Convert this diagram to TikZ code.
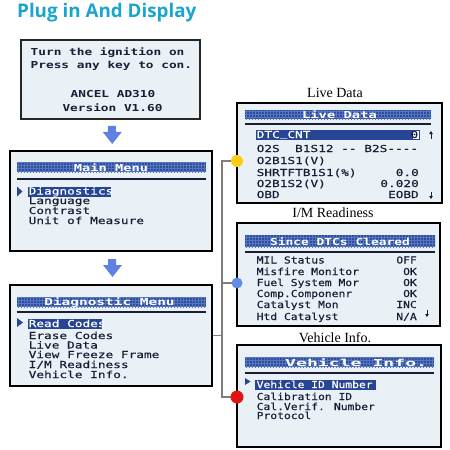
\documentclass[tikz,border=0pt]{standalone}
\usepackage{fontspec}
\usepackage{graphicx}
\usetikzlibrary{patterns,arrows.meta,calc}
\setmainfont{Liberation Serif}
\newfontfamily\lcd[FakeStretch=1.33]{DejaVu Sans Mono}
\newfontfamily\lcdi[FakeStretch=1.33,FakeBold=0.4]{DejaVu Sans Mono}
\newfontfamily\lcdn[FakeStretch=1.18,FakeBold=0.4]{DejaVu Sans Mono}
\newfontfamily\headfont{Open Sans}
\newcommand\hy{\mbox{-}}
\newcommand\ubar{\raisebox{1.6pt}{\_}}
\definecolor{boxfill}{RGB}{233,241,246}
\definecolor{barblue}{RGB}{45,78,158}
\definecolor{gridcol}{RGB}{88,118,192}
\definecolor{hlblue}{RGB}{40,68,148}
\definecolor{textc}{RGB}{25,30,55}
\definecolor{arrowblue}{RGB}{95,128,228}
\definecolor{titlecyan}{RGB}{25,165,205}
\definecolor{linegray}{RGB}{125,125,125}
\definecolor{dotyellow}{RGB}{250,205,20}
\definecolor{dotblue}{RGB}{100,140,230}
\definecolor{dotred}{RGB}{225,20,20}
\begin{document}
\begin{tikzpicture}[x=1pt,y=-1pt,
  screen/.style={draw=black, line width=1.7pt, fill=boxfill, inner sep=0},
  bar/.style={draw=none, preaction={fill=barblue}, pattern=grid, pattern color=gridcol, inner sep=0},
  hlbox/.style={fill=hlblue, draw=none, inner sep=0},
  item/.style={anchor=base west, inner sep=0, text=textc, font=\lcdi\fontsize{9.6}{10}\selectfont},
  itemn/.style={item, font=\lcdn\fontsize{9.6}{10}\selectfont},
  val/.style={item, anchor=base east},
  valn/.style={itemn, anchor=base east},
  bartext/.style={anchor=base, inner sep=0, text=white, font=\lcd\bfseries\fontsize{9.6}{10}\selectfont},
  boldtext/.style={item, font=\lcd\bfseries\fontsize{9.6}{10}\selectfont},
  shotlabel/.style={anchor=base, inner sep=0, text=black, font=\fontsize{14}{16}\selectfont},
  rulel/.style={draw=textc, line width=1.3pt},
  conn/.style={draw=linegray, line width=1.1pt},
  dotnode/.style={circle, inner sep=0, draw=none},
  bigarrow/.style={fill=arrowblue},
  tinyarrow/.style={draw=textc, line width=0.9pt, -{Triangle[length=3pt,width=3.5pt]}},
  pointer/.style={fill=hlblue}
]
\useasboundingbox (0,0) rectangle (450,450);

% title
\node[anchor=base west, inner sep=0, font=\headfont\bfseries\fontsize{18.8}{20}\selectfont, text=titlecyan] (title) at (17,17) {Plug in And Display};

% ---------- start screen
\node[screen, draw=black!85, line width=1.5pt, minimum width=179pt, minimum height=79pt] (start) at (110.5,79.5) {};
\node[boldtext] (s1) at (30.5,55) {Turn the ignition on};
\node[boldtext] (s2) at (30.5,68) {Press any key to con.};
\node[boldtext, anchor=base] (s3) at (113,97) {ANCEL AD310};
\node[boldtext, anchor=base] (s4) at (112.5,111) {Version V1.60};

% ---------- main menu
\node[screen, minimum width=202pt, minimum height=100pt] (mainmenu) at (111,201) {};
\node[bar, minimum width=189pt, minimum height=10pt] (mainbar) at (111.5,167) {};
\node[bartext] (maint) at (111,171) {\scalebox{1.07}[1]{Main Menu}};
\draw[rulel] (17,179) -- (206,179);
\fill[pointer] (17,186.5) -- (22.5,191.5) -- (17,196.5) -- cycle;
\node[hlbox, minimum width=83pt, minimum height=10pt] (mhl) at (69.5,192) {};
\node[item, text=white] (m1) at (28.5,194.5) {Diagnostics};
\node[item] (m2) at (28.5,204) {Language};
\node[item] (m3) at (28.5,214) {Contrast};
\node[item] (m4) at (28.5,224) {Unit of Measure};

% ---------- diagnostic menu
\node[screen, minimum width=202pt, minimum height=101pt] (diag) at (111,335.5) {};
\node[bar, minimum width=189pt, minimum height=10pt] (diagbar) at (111.5,302) {};
\node[bartext] (diagt) at (109.5,305) {\scalebox{1.13}[1]{Diagnostic Menu}};
\draw[rulel] (17,312) -- (206,312);
\fill[pointer] (17,318) -- (23,322.5) -- (17,327) -- cycle;
\node[hlbox, minimum width=74pt, minimum height=10pt] (dhl) at (65,324) {};
\node[item, text=white] (d1) at (28.5,327) {Read Codes};
\node[item] (d2) at (28.5,339) {Erase Codes};
\node[item] (d3) at (28.5,348.5) {Live Data};
\node[item] (d4) at (28.5,358) {View Freeze Frame};
\node[item] (d5) at (28.5,368) {I/M Readiness};
\node[item] (d6) at (28.5,378) {Vehicle Info.};

% ---------- big arrows
\path ($(start.south)!0.5!(mainmenu.north)$) coordinate (a1);
\path ($(mainmenu.south)!0.5!(diag.north)$) coordinate (a2);
\fill[bigarrow, shift={(a1)}] (-3,-9) -- (5,-9) -- (5,-3) -- (11,-3) -- (1.5,9) -- (-8,-3) -- (-3,-3) -- cycle;
\fill[bigarrow, shift={(a2)}] (-3,-9) -- (5,-9) -- (5,-3) -- (11,-3) -- (1.5,9) -- (-8,-3) -- (-3,-3) -- cycle;

% ---------- live data
\node[shotlabel] (livelab) at (335,97) {Live Data};
\node[screen, minimum width=205pt, minimum height=100pt] (live) at (339.5,153) {};
\node[bar, minimum width=186pt, minimum height=9pt] (livebar) at (338,114.5) {};
\node[bartext] (livet) at (339.5,118) {\scalebox{1.08}[1]{Live Data}};
\draw[rulel] (245,124) -- (431,124);
\node[hlbox, minimum width=164pt, minimum height=10.5pt] (lhl) at (338,135) {};
\node[item, text=white] (l1) at (256.5,138) {DTC\ubar CNT};
\node[draw=hlblue, line width=0.6pt, fill=white, inner sep=0, minimum width=7pt, minimum height=8.5pt] (zbox) at (415.5,135) {};
\node[val] (l1v) at (418.5,138) {0};
\draw[tinyarrow] (431,138.5) -- (431,131);
\node[item] (l2) at (256.5,152) {O2S\ \ B1S12 \hy\hy{} B2S\hy\hy\hy\hy};
\node[item] (l3) at (256.5,164) {O2B1S1(V)};
\node[item] (l4) at (256.5,176) {SHRTFTB1S1(\%)};
\node[val] (l4v) at (419,176) {0.0};
\node[item] (l5) at (256.5,187) {O2B1S2(V)};
\node[val] (l5v) at (419,187) {0.020};
\node[item] (l6) at (256.5,198) {OBD};
\node[val] (l6v) at (419,198) {EOBD};
\draw[tinyarrow] (431,191.5) -- (431,199);

% ---------- I/M readiness
\node[shotlabel] (imlab) at (333,217) {I/M Readiness};
\node[screen, minimum width=203pt, minimum height=103pt] (im) at (338.5,274.5) {};
\node[bar, minimum width=190pt, minimum height=12pt] (imbar) at (340,241) {};
\node[bartext] (imt) at (340,245) {\scalebox{1.01}[1]{Since DTCs Cleared}};
\draw[rulel] (245,252) -- (435,252);
\node[itemn] (i1) at (256.5,263.5) {MIL Status};
\node[valn] (i1v) at (417,263.5) {OFF};
\node[itemn] (i2) at (256.5,275) {Misfire Monitor};
\node[valn] (i2v) at (417,275) {OK};
\node[itemn] (i3) at (256.5,286) {Fuel System Mor};
\node[valn] (i3v) at (417,286) {OK};
\node[itemn] (i4) at (256.5,297) {Comp.Componenr};
\node[valn] (i4v) at (417,297) {OK};
\node[itemn] (i5) at (256.5,308) {Catalyst Mon};
\node[valn] (i5v) at (417,308) {INC};
\node[itemn] (i6) at (256.5,320) {Htd Catalyst};
\node[valn] (i6v) at (417,320) {N/A};
\draw[tinyarrow] (427,309.5) -- (427,317);

% ---------- vehicle info
\node[shotlabel] (vehlab) at (335,342) {Vehicle Info.};
\node[screen, minimum width=204pt, minimum height=102pt] (veh) at (339,396) {};
\node[bar, minimum width=189pt, minimum height=10pt] (vehbar) at (339.5,362) {};
\node[bartext, anchor=base west] (veht) at (285,366) {\scalebox{1.42}[1]{Vehicle Info.}};
\draw[rulel] (245,373) -- (434,373);
\fill[pointer] (245,378) -- (250.5,381.5) -- (245,385) -- cycle;
\node[hlbox, minimum width=121pt, minimum height=10pt] (vhl) at (315.5,385) {};
\node[itemn, text=white] (v1) at (256.5,388) {Vehicle ID Number};
\node[itemn] (v2) at (256.5,400) {Calibration ID};
\node[itemn] (v3) at (256.5,410) {Cal.Verif. Number};
\node[itemn] (v4) at (256.5,419) {Protocol};

% ---------- connectors
\coordinate (yc) at (237,161);
\coordinate (bc) at (237,283);
\coordinate (rc) at (237,397);
\coordinate (tTop) at (222,161);
\coordinate (tBot) at (222,397);
\draw[conn] (yc) -- (tTop) -- (tBot) -- (rc);
\draw[conn] (bc) -- (bc -| tTop);
\draw[conn] (diag.east) -- (diag.east -| tTop);
\node[dotnode, fill=dotyellow, minimum size=12pt] (ydot) at (yc) {};
\node[dotnode, fill=dotblue, minimum size=11pt] (bdot) at (bc) {};
\node[dotnode, fill=dotred, minimum size=13pt] (rdot) at (rc) {};
\end{tikzpicture}
\end{document}
